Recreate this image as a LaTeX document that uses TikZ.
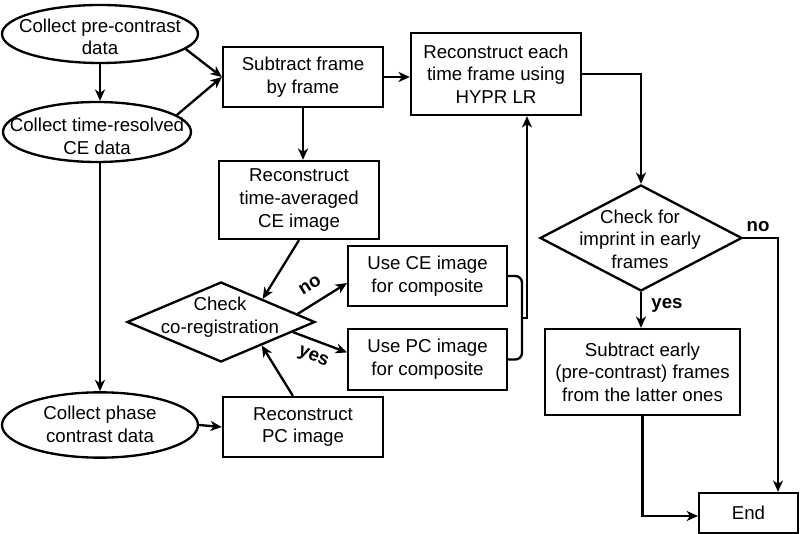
\documentclass[tikz,border=0pt]{standalone}
\usepackage{fontspec}
\setmainfont{Liberation Sans}
\usetikzlibrary{shapes.geometric,arrows.meta,calc}
\begin{document}
\begin{tikzpicture}[x=0.75pt,y=-0.75pt,
  line width=1.75pt,
  >={Stealth[length=8.5pt,width=7.5pt,inset=2.5pt]},
  every node/.style={font=\fontsize{14}{17}\selectfont, align=center, inner sep=0pt},
  box/.style={draw, rectangle},
  oval/.style={draw, ellipse},
  dia/.style={draw, diamond},
  lbl/.style={font=\fontsize{14}{17}\selectfont\bfseries},
]
\useasboundingbox (0,0) rectangle (800,534);
% ellipses
\node[oval, minimum width=147pt, minimum height=43.5pt] (e1) at (100,34) {};
\node (e1t) at (100,37) {Collect pre-contrast\\data};
\node[oval, minimum width=141pt, minimum height=45pt] (e2) at (97,132) {};
\node (e2t) at (97,136) {Collect time-resolved\\CE data};
\node[oval, minimum width=147pt, minimum height=49pt] (e3) at (100,425) {};
\node (e3t) at (100,424) {Collect phase\\contrast data};
% boxes
\node[box, minimum width=120pt, minimum height=45pt] (sub) at (303,77) {Subtract frame\\by frame};
\node[box, minimum width=120pt, minimum height=58.5pt] (avg) at (299,200) {Reconstruct\\time-averaged\\CE image};
\node[box, minimum width=127.5pt, minimum height=61.5pt] (hypr) at (496,74) {Reconstruct each\\time frame using\\HYPR LR};
\node[box, minimum width=119pt, minimum height=45pt] (ce) at (427.5,276) {Use CE image\\for composite};
\node[box, minimum width=119pt, minimum height=46pt] (pc) at (427.5,359.5) {Use PC image\\for composite};
\node[box, minimum width=120pt, minimum height=45pt] (pcimg) at (303,427) {Reconstruct\\PC image};
\node[box, minimum width=146pt, minimum height=64.5pt] (sube) at (642.5,372) {Subtract early\\(pre-contrast) frames\\from the latter ones};
\node[box, minimum width=74pt, minimum height=30pt] (end) at (748.5,513) {End};
% diamonds
\node[dia, minimum width=141pt, minimum height=60pt] (coreg) at (221,322) {};
\node (coregt) at (220,317) {Check\\co-registration};
\node[dia, minimum width=151.5pt, minimum height=79.5pt] (imprint) at (641,238) {};
\node (imprintt) at (640,239) {Check for\\imprint in early\\frames};
% connectors
\draw[->] (e3.north |- e1.south) -- (e3.north |- e2.north);
\draw[->] (e1.-10) -- (sub.west);
\draw[->] (e2.12) -- (sub.west);
\draw[->] (e3.north |- e2.south) -- (e3.north);
\draw[->] (sub.east) -- (sub.east -| hypr.west);
\draw[->] (sub.south) -- (sub.south |- avg.north);
\draw[->] (avg.south) -- (coreg.29);
\draw[->] (coreg.6) -- (ce.185);
\node[lbl, rotate=32] (no1) at (310,285) {no};
\draw[->] (coreg.-8) -- (pc.175);
\node[lbl, rotate=-23] (yes1) at (313,358) {yes};
\draw[->] (pcimg.108) -- (coreg.-30);
\draw[->] (e3.east) -- (pcimg.west);
\coordinate (bm) at (522,318);
\coordinate (bt) at (527,318);
\draw[rounded corners=5pt] (ce.east) -| (bm) |- (pc.east);
\draw[->] (bm) -- (bt) -- (bt |- hypr.south);
\draw[->] (hypr.east) -| (imprint.north);
\coordinate (nc) at (778,238);
\draw[->] (imprint.east) -- (nc) -- (nc |- end.north);
\node[lbl] (no2) at (758,227) {no};
\draw[->] (imprint.south) -- (imprint.south |- sube.north);
\node[lbl] (yes2) at (667,305) {yes};
\draw[->] (sube.south) |- ($(end.west)+(0,3)$);
\end{tikzpicture}
\end{document}
